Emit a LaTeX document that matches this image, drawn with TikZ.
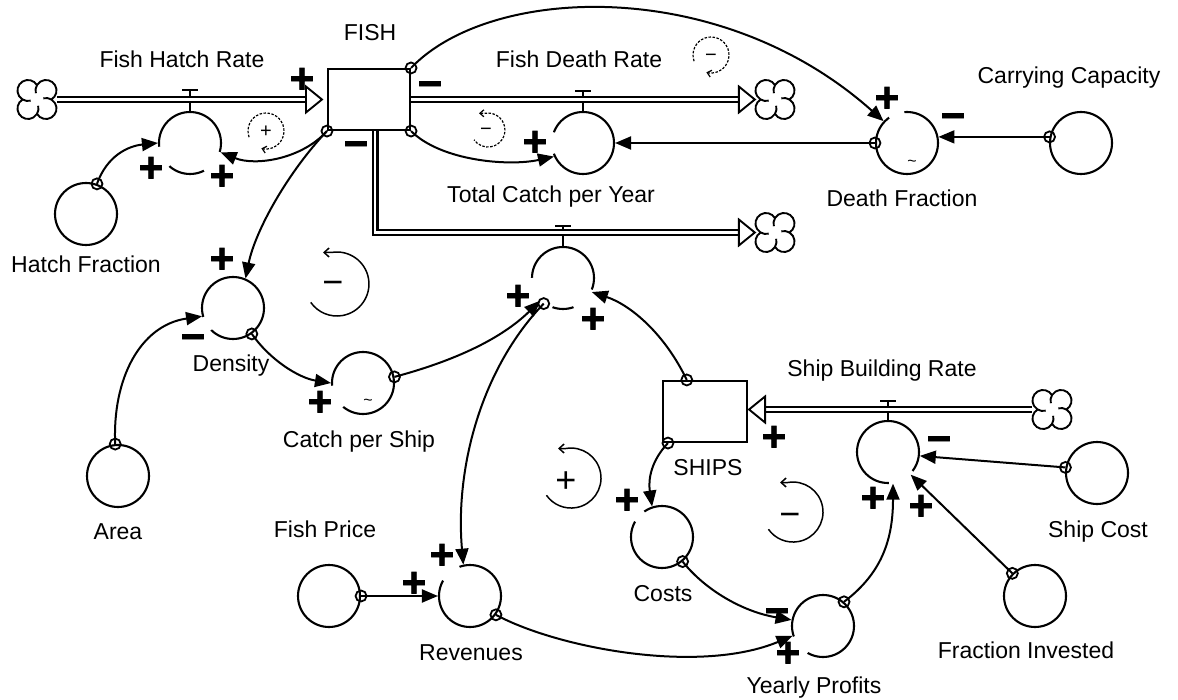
\documentclass[tikz,border=0pt]{standalone}
\usepackage{fontspec}
\setmainfont{Liberation Sans}
\newfontfamily\polfont{Liberation Sans Bold}[FakeBold=2]
\usetikzlibrary{arrows.meta}
\tikzset{
  vcloud/.pic={
    \draw[line width=1.9pt] (14.4,0) arc[start angle=-59,end angle=149,radius=10.5]
      arc[start angle=31,end angle=239,radius=10.5]
      arc[start angle=121,end angle=329,radius=10.5]
      arc[start angle=211,end angle=419,radius=10.5] -- cycle;
    \draw[line width=1.9pt] (0,14.4) arc[start angle=149,end angle=195,radius=10.5];
    \draw[line width=1.9pt] (-14.4,0) arc[start angle=239,end angle=285,radius=10.5];
    \draw[line width=1.9pt] (0,-14.4) arc[start angle=329,end angle=375,radius=10.5];
    \draw[line width=1.9pt] (14.4,0) arc[start angle=419,end angle=465,radius=10.5];
  }
}
\newcommand{\cgap}[3]{\draw[white, line width=5pt] (#1.center) ++(#2:31) arc[start angle=#2, end angle=#3, radius=31];}
\begin{document}
\begin{tikzpicture}[x=1pt,y=1pt,
  aux/.style={circle, draw, line width=2.1pt, minimum size=62pt, inner sep=0pt},
  stock/.style={rectangle, draw, line width=2.1pt, inner sep=0pt},
  cloudn/.style={circle, minimum size=40pt, inner sep=0pt},
  lbl/.style={font=\fontsize{23}{27}\selectfont, anchor=base, inner sep=0pt},
  pol/.style={font=\polfont\fontsize{42}{44}\selectfont, inner sep=0pt, anchor=base, yshift=-14.7pt},
  lsmall/.style={font=\fontsize{20}{22}\selectfont, inner sep=0pt, text height=14pt, text depth=0pt},
  lbig/.style={font=\fontsize{36}{38}\selectfont, inner sep=0pt, text height=25pt, text depth=0pt},
  tl/.style={font=\fontsize{16}{18}\selectfont, anchor=base, inner sep=0pt},
  arr/.style={line width=2pt, -{Triangle[length=16pt,width=13pt]}},
  tailc/.style={line width=1.8pt},
  pipe/.style={draw, line width=2.4pt, double=white, double distance=2.2pt},
  fhead/.style={draw, fill=white, line width=1.9pt, line join=miter},
  valve/.style={line width=1.9pt},
  loopsmall/.style={line width=1.2pt, dash pattern=on 2.5pt off 1.5pt},
  loopbig/.style={line width=1.5pt}
]
\useasboundingbox (0,0) rectangle (1178,-700);

% ---------- stocks and clouds
\node[stock, minimum width=82pt, minimum height=61pt] (fish) at (369,-99.5) {};
\node[stock, minimum width=84pt, minimum height=61pt] (ships) at (705,-411.5) {};
\node[cloudn] (c1) at (37,-99.5) {};
\node[cloudn] (c2) at (775,-99.5) {};
\node[cloudn] (c3) at (775,-232.5) {};
\node[cloudn] (c4) at (1052,-409.5) {};
\pic at (c1) {vcloud};
\pic at (c2) {vcloud};
\pic at (c3) {vcloud};
\pic at (c4) {vcloud};

% ---------- auxiliaries and valves
\node[aux] (hatchv) at (190,-143) {};
\node[aux] (hatchfrac) at (86,-214) {};
\node[aux] (deathv) at (583,-143) {};
\node[aux] (deathfrac) at (907,-143) {};
\node[aux] (carry) at (1081,-143) {};
\node[aux] (catchv) at (563,-278) {};
\node[aux] (density) at (233,-308) {};
\node[aux] (area) at (118,-476) {};
\node[aux] (cps) at (363,-383) {};
\node[aux] (shipv) at (888,-452) {};
\node[aux] (shipcost) at (1097,-473) {};
\node[aux] (fracinv) at (1035,-596) {};
\node[aux] (costs) at (662,-537) {};
\node[aux] (profits) at (823,-626) {};
\node[aux] (revenues) at (470,-596) {};
\node[aux] (price) at (329,-596) {};

\cgap{hatchv}{187}{228}
\cgap{hatchv}{297}{343}
\cgap{deathv}{160}{200}
\cgap{deathfrac}{95}{125}
\cgap{density}{197}{225}
\cgap{cps}{185}{230}
\cgap{catchv}{180}{250}
\cgap{catchv}{290}{338}
\cgap{shipv}{272}{322}
\cgap{costs}{125}{150}
\cgap{profits}{200}{240}
\cgap{revenues}{110}{150}

\node[tl] (dftilde) at (912,-167) {\textasciitilde};
\node[tl] (cpstilde) at (368,-406) {\textasciitilde};

% ---------- valve T marks
\draw[valve] (hatchv.north) -- ++(0,21) ++(-8,0) -- ++(16,0);
\draw[valve] (deathv.north) -- ++(0,20) ++(-8,0) -- ++(16,0);
\draw[valve] (catchv.north) -- ++(0,20) ++(-8,0) -- ++(16,0);
\draw[valve] (shipv.north) -- ++(0,19) ++(-8,0) -- ++(16,0);

% ---------- flows (pipes)
\draw[pipe] (c1.east) -- ([xshift=-12pt]fish.west);
\draw[fhead] ([xshift=-5pt]fish.west) -- ++(-16,13) -- ++(0,-26) -- cycle;
\draw[pipe] (fish.east) -- ([xshift=-8pt]c2.west);
\draw[fhead] (c2.west) -- ++(-16,13) -- ++(0,-26) -- cycle;
\draw[pipe] ([xshift=6pt]fish.south) |- ([xshift=-8pt]c3.west);
\draw[fhead] (c3.west) -- ++(-16,13) -- ++(0,-26) -- cycle;
\draw[pipe] (c4.west) -- ([xshift=8pt]ships.east |- c4.center);
\draw[fhead] ([xshift=1pt]ships.east |- c4.center) -- ++(16,13) -- ++(0,-26) -- cycle;

% ---------- causal links
\draw[arr] (hatchfrac.70) .. controls +(10,28) and +(-30,-3) .. (hatchv.180);
\draw[arr] (fish.south west) .. controls +(-25,-28) and +(35,-14) .. (hatchv.-17);
\draw[arr] (fish.north east) .. controls (490,15) and (720,25) .. (deathfrac.137);
\draw[arr] (fish.south east) .. controls +(30,-30) and +(-45,-10) .. (deathv.205);
\draw[arr] (deathfrac.180) -- (deathv.0);
\draw[arr] (carry.169) -- (deathfrac.11);
\draw[arr] (fish.south west) .. controls +(-38,-40) and +(10,49) .. (density.67);
\draw[arr] (area.95) .. controls +(-3,65) and +(-62,-9) .. (density.195);
\draw[arr] (density.-54) .. controls +(18,-26) and +(-32,5) .. (cps.180);
\draw[arr] (cps.11) .. controls +(56,15) and +(-41,-40) .. (catchv.225);
\draw[arr] (catchv.233) .. controls (480,-370) and (455,-470) .. (revenues.102);
\draw[arr] (ships.120) .. controls +(-22,46) and +(39,-13) .. (catchv.-26);
\draw[arr] ([xshift=6pt]ships.south west) .. controls +(-17,-18) and +(-4,27) .. (costs.108);
\draw[arr] (costs.-50) .. controls +(23,-29) and +(-48,8) .. (profits.169);
\draw[arr] (revenues.-36) .. controls +(61,-33) and +(-94,-39) .. (profits.198);
\draw[arr] (price.0) -- (revenues.180);
\draw[arr] (profits.49) .. controls +(37,28) and +(0,-57) .. (shipv.-81);
\draw[arr] (shipcost.170) -- (shipv.-7);
\draw[arr] (fracinv.135) -- (shipv.-45);

% tail circles
\foreach \t in {hatchfrac.70, fish.south west, fish.north east, fish.south east,
  deathfrac.180, carry.169, area.95, density.-54, cps.11, catchv.233, ships.120,
  costs.-50, revenues.-36, price.0, profits.49, shipcost.170, fracinv.135}
  \draw[tailc] (\t) circle[radius=5.5];
\draw[tailc] ([xshift=6pt]ships.south west) circle[radius=5.5];

% ---------- labels
\node[lbl] (lfish) at (370,-41) {FISH};
\node[lbl] (lfhr) at (182,-68) {Fish Hatch Rate};
\node[lbl] (lfdr) at (579,-68) {Fish Death Rate};
\node[lbl] (ltcy) at (551,-203) {Total Catch per Year};
\node[lbl] (lcc) at (1069,-84) {Carrying Capacity};
\node[lbl] (ldf) at (902,-207) {Death Fraction};
\node[lbl] (lhf) at (86,-273) {Hatch Fraction};
\node[lbl] (lden) at (231,-372) {Density};
\node[lbl] (lcps) at (359,-447) {Catch per Ship};
\node[lbl] (larea) at (118,-539) {Area};
\node[lbl] (lfp) at (325,-537) {Fish Price};
\node[lbl] (lrev) at (471,-660) {Revenues};
\node[lbl] (lcost) at (663,-601) {Costs};
\node[lbl] (lyp) at (814,-693) {Yearly Profits};
\node[lbl] (lships) at (708,-475) {SHIPS};
\node[lbl] (lsbr) at (882,-377) {Ship Building Rate};
\node[lbl] (lsc) at (1098,-537) {Ship Cost};
\node[lbl] (lfi) at (1026,-658) {Fraction Invested};

% ---------- polarity signs
\node[pol] (p1) at (302,-78) {+};
\node[pol] (p2) at (430,-83) {−};
\node[pol] (p3) at (356,-143) {−};
\node[pol] (p4) at (151,-167) {+};
\node[pol] (p5) at (222,-175) {+};
\node[pol] (p6) at (535,-141) {+};
\node[pol] (p7) at (887,-97) {+};
\node[pol] (p8) at (953,-115) {−};
\node[pol] (p9) at (222,-258) {+};
\node[pol] (p10) at (193,-336) {−};
\node[pol] (p11) at (320,-401) {+};
\node[pol] (p12) at (518,-295) {+};
\node[pol] (p13) at (593,-318) {+};
\node[pol] (p14) at (774,-436) {+};
\node[pol] (p15) at (939,-438) {−};
\node[pol] (p16) at (873,-497) {+};
\node[pol] (p17) at (921,-505) {+};
\node[pol] (p18) at (627,-499) {+};
\node[pol] (p19) at (442,-554) {+};
\node[pol] (p20) at (414,-582) {+};
\node[pol] (p21) at (777,-610) {−};
\node[pol] (p22) at (788,-652) {+};

% ---------- loop markers
\node[lsmall] (L1) at (266,-131) {+};
\node[lsmall] (L2) at (711,-55) {−};
\node[lsmall] (L3) at (486,-129) {−};
\node[lbig] (L4) at (333,-282) {−};
\node[lbig] (L5) at (566,-480) {+};
\node[lbig] (L6) at (790,-514) {−};
\draw[loopsmall, -{Straight Barb[length=4pt,width=7pt]}] (L1.center) ++(200:18) arc[start angle=200, end angle=-105, radius=18];
\draw[loopsmall, -{Straight Barb[length=4pt,width=7pt]}] (L2.center) ++(200:18) arc[start angle=200, end angle=-105, radius=18];
\draw[loopsmall, {Straight Barb[length=4pt,width=7pt]}-] ([xshift=2pt,yshift=-1pt]L3.center) ++(-9,16.7) -- ++(6,0) arc[start angle=100, end angle=-145, radius=17];
\draw[loopbig, {Straight Barb[length=5pt,width=9pt]}-] ([xshift=4pt,yshift=-2pt]L4.center) ++(-14,31.5) -- ++(8.4,0) arc[start angle=100, end angle=-145, radius=32];
\draw[loopbig, {Straight Barb[length=5pt,width=9pt]}-] ([xshift=5pt,yshift=2pt]L5.center) ++(-13,29.5) -- ++(7.8,0) arc[start angle=100, end angle=-145, radius=30];
\draw[loopbig, {Straight Barb[length=5pt,width=9pt]}-] ([xshift=3pt,yshift=2pt]L6.center) ++(-13,29.5) -- ++(7.8,0) arc[start angle=100, end angle=-145, radius=30];
\end{tikzpicture}
\end{document}
